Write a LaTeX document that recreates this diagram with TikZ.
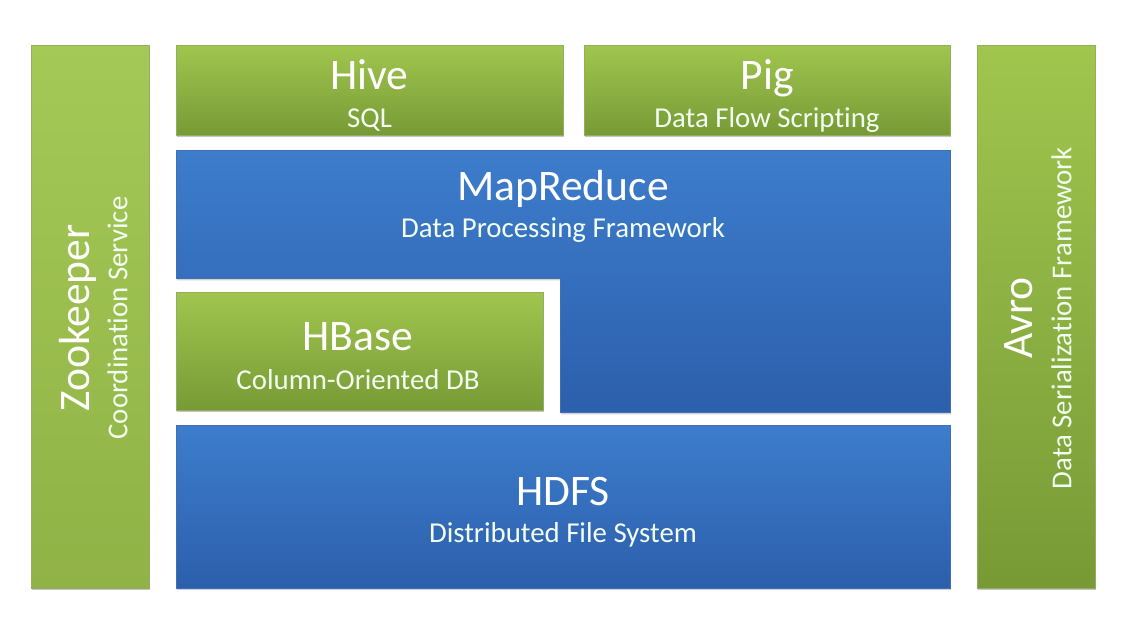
\documentclass[tikz,border=0pt]{standalone}
\usepackage{fontspec}
\setmainfont{Carlito}[Ligatures=NoCommon]
\usetikzlibrary{shadows}

\definecolor{grntop}{HTML}{A0C64E}
\definecolor{grnbot}{HTML}{789A36}
\definecolor{blutop}{HTML}{3D7DCC}
\definecolor{blubot}{HTML}{2C5FAC}

\begin{document}
\begin{tikzpicture}[x=0.025cm,y=-0.025cm,
  greenbox/.style={top color=grntop, bottom color=grnbot, draw=grnbot!80,
    drop shadow={shadow xshift=0.6pt, shadow yshift=-1.6pt, opacity=0.45}},
  bluebox/.style={top color=blutop, bottom color=blubot, draw=blubot!90,
    drop shadow={shadow xshift=0.6pt, shadow yshift=-1.6pt, opacity=0.35}},
  title/.style={text=white, font=\fontsize{31}{33}\selectfont, inner sep=0pt,
    text height=20pt, text depth=0pt},
  subtitle/.style={text=white!95!green, font=\fontsize{20.5}{22}\selectfont, inner sep=0pt,
    text height=13.2pt, text depth=0pt}]
\useasboundingbox (0,0) rectangle (1123,634);
\fill [white] (0,0) rectangle (1123,634);
% side columns
\shade [greenbox, top color=grntop!95!white, bottom color=grntop!90!black] (31,45) rectangle (149,588);
\shade [greenbox] (977,45) rectangle (1095,588);
% top row
\shade [greenbox] (176,45) rectangle (563,135);
\shade [greenbox] (584,45) rectangle (950,135);
% mapreduce, hbase, hdfs
\shade [bluebox] (176,150) -- (950,150) -- (950,412) -- (560,412) -- (560,278) -- (176,278) -- cycle;
\shade [greenbox] (176,292) rectangle (543,410);
\shade [bluebox] (176,425) rectangle (950,588);
% labels
\node (zootitle) at (75,318) [title, rotate=90] {Zookeeper};
\node (zoosub) at (118,318) [subtitle, rotate=90] {Coordination Service};
\node (avrotitle) at (1018,318) [title, rotate=90] {Avro};
\node (avrosub) at (1062,318) [subtitle, rotate=90] {Data Serialization Framework};
\node (hivetitle) at (369.5,75) [title] {Hive};
\node (hivesub) at (369.5,118) [subtitle] {SQL};
\node (pigtitle) at (767,75) [title] {Pig};
\node (pigsub) at (767,118) [subtitle] {Data Flow Scripting};
\node (mrtitle) at (563,186) [title] {MapReduce};
\node (mrsub) at (563,228) [subtitle] {Data Processing Framework};
\node (hbtitle) at (358,336) [title] {HBase};
\node (hbsub) at (358,380) [subtitle] {Column-Oriented DB};
\node (hdfstitle) at (563,491) [title] {HDFS};
\node (hdfssub) at (563,533) [subtitle] {Distributed File System};
\end{tikzpicture}
\end{document}
